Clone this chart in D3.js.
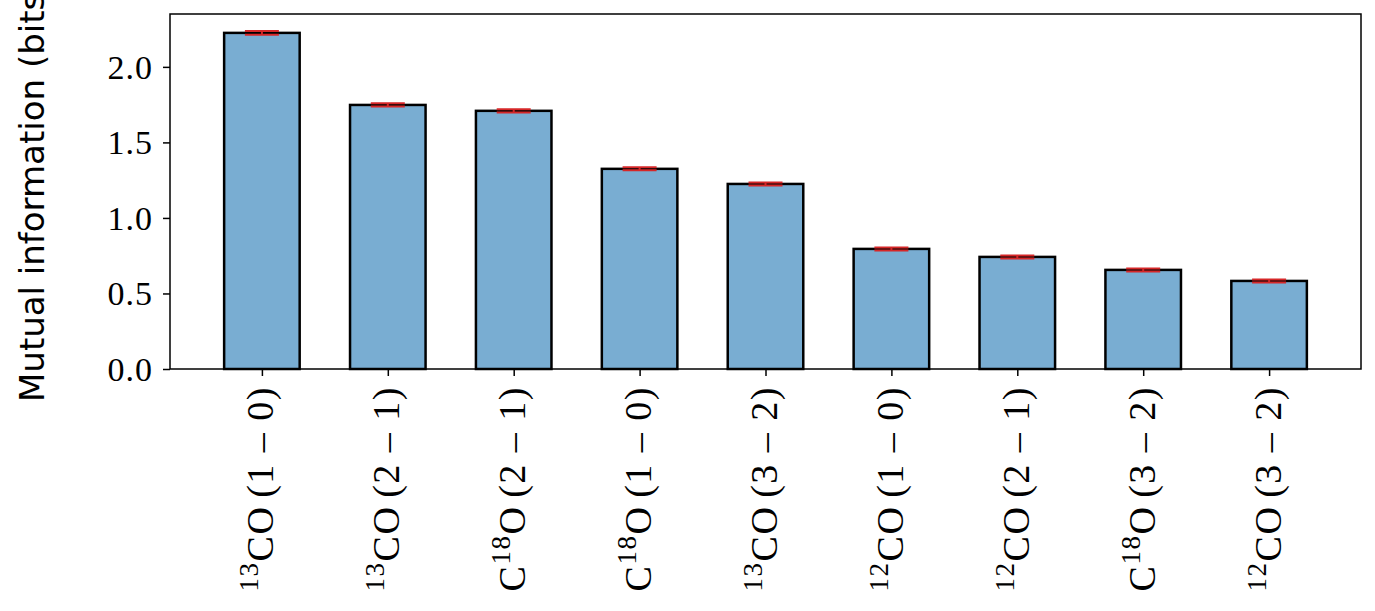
<!DOCTYPE html>
<html>
<head>
<meta charset="utf-8">
<script src="https://cdn.jsdelivr.net/npm/d3@7"></script>
<style>
  body { margin: 0; background: #fff; }
  svg { display: block; }
  .tick text { font-family: "Liberation Serif", "DejaVu Serif", serif; }
</style>
</head>
<body>
<svg id="chart" width="1375" height="611"></svg>
<script>
// species and transitions for each bar (isotope numbers are drawn as superscripts)
var species = ["13CO", "13CO", "C18O", "C18O", "13CO", "12CO", "12CO", "C18O", "12CO"];
var transitions = ["1 \u2013 0", "2 \u2013 1", "2 \u2013 1", "1 \u2013 0", "3 \u2013 2", "1 \u2013 0", "2 \u2013 1", "3 \u2013 2", "3 \u2013 2"];
var mutualInfo = [2.225, 1.748, 1.709, 1.325, 1.225, 0.795, 0.742, 0.656, 0.583];
var errors = [0.012, 0.011, 0.011, 0.010, 0.010, 0.010, 0.010, 0.010, 0.010];
var yTicks = [0.0, 0.5, 1.0, 1.5, 2.0];

var svg = d3.select("#chart"),
    margin = {left: 170, right: 14, top: 14, bottom: 242},
    width = +svg.attr("width") - margin.left - margin.right,
    height = +svg.attr("height") - margin.top - margin.bottom;

var g = svg.append("g").attr("transform", "translate(" + margin.left + "," + margin.top + ")");

// matplotlib-like: bar width 0.6, 5% margins on x
var x = d3.scaleLinear().domain([-0.73, mutualInfo.length - 1 + 0.73]).range([0, width]);
var y = d3.scaleLinear().domain([0, 2.35]).range([height, 0]);
var bw = x(0.6) - x(0);

// bars
g.selectAll("rect.bar")
  .data(mutualInfo)
  .enter().append("rect")
  .attr("class", "bar")
  .attr("x", function(d, i) { return x(i) - bw / 2; })
  .attr("y", function(d) { return y(d); })
  .attr("width", bw)
  .attr("height", function(d) { return height - y(d); })
  .attr("fill", "#79add2")
  .attr("stroke", "#000")
  .attr("stroke-width", 2.5);

// error bars
var capHalf = 17;
var err = g.selectAll("g.err")
  .data(mutualInfo)
  .enter().append("g")
  .attr("class", "err")
  .attr("stroke", "#d62728")
  .attr("stroke-width", 2);

err.append("line")
  .attr("x1", function(d, i) { return x(i); })
  .attr("x2", function(d, i) { return x(i); })
  .attr("y1", function(d, i) { return y(d - errors[i]); })
  .attr("y2", function(d, i) { return y(d + errors[i]); });

[-1, 1].forEach(function(s) {
  err.append("line")
    .attr("x1", function(d, i) { return x(i) - capHalf; })
    .attr("x2", function(d, i) { return x(i) + capHalf; })
    .attr("y1", function(d, i) { return y(d + s * errors[i]); })
    .attr("y2", function(d, i) { return y(d + s * errors[i]); });
});

// axes
var yAxis = g.append("g")
  .call(d3.axisLeft(y).tickValues(yTicks).tickFormat(d3.format(".1f")).tickSize(7).tickPadding(10));
yAxis.select(".domain").remove();
yAxis.selectAll(".tick line").attr("stroke-width", 1.5);
yAxis.selectAll(".tick text").attr("font-size", 34).attr("letter-spacing", 1).attr("fill", "#000").attr("dy", "0.33em");

var xAxis = g.append("g")
  .attr("transform", "translate(0," + height + ")")
  .call(d3.axisBottom(x).tickValues(d3.range(mutualInfo.length)).tickSize(7).tickFormat(""));
xAxis.select(".domain").remove();
xAxis.selectAll(".tick line").attr("stroke-width", 1.5);

// rotated x labels with superscript isotopes
xAxis.selectAll(".tick").each(function(d) {
  var t = d3.select(this).append("text")
    .attr("transform", "translate(11,17) rotate(-90)")
    .attr("text-anchor", "end")
    .attr("font-family", "'Liberation Serif', 'DejaVu Serif', serif")
    .attr("font-size", 38)
    .attr("letter-spacing", 1.5)
    .attr("fill", "#000");
  var parts = species[d].match(/(\d+|[A-Z]+)/g);
  var isSup = false;
  parts.forEach(function(p) {
    var sup = /\d/.test(p);
    var sp = t.append("tspan").text(p);
    if (sup) sp.attr("font-size", 27).attr("dy", -15);
    else if (isSup) sp.attr("dy", 15);
    isSup = sup;
  });
  var last = t.append("tspan").text("\u2006(" + transitions[d] + ")");
  if (isSup) last.attr("dy", 15);
});

// frame
g.append("rect")
  .attr("width", width)
  .attr("height", height)
  .attr("fill", "none")
  .attr("stroke", "#000")
  .attr("stroke-width", 1.5);

// y label (cut off at the top, as in the original figure)
svg.append("text")
  .attr("transform", "translate(44,402) rotate(-90)")
  .attr("text-anchor", "start")
  .attr("font-family", "'DejaVu Sans', sans-serif")
  .attr("font-size", 34)
  .attr("fill", "#000")
  .text("Mutual information (bits)");
</script>
</body>
</html>
